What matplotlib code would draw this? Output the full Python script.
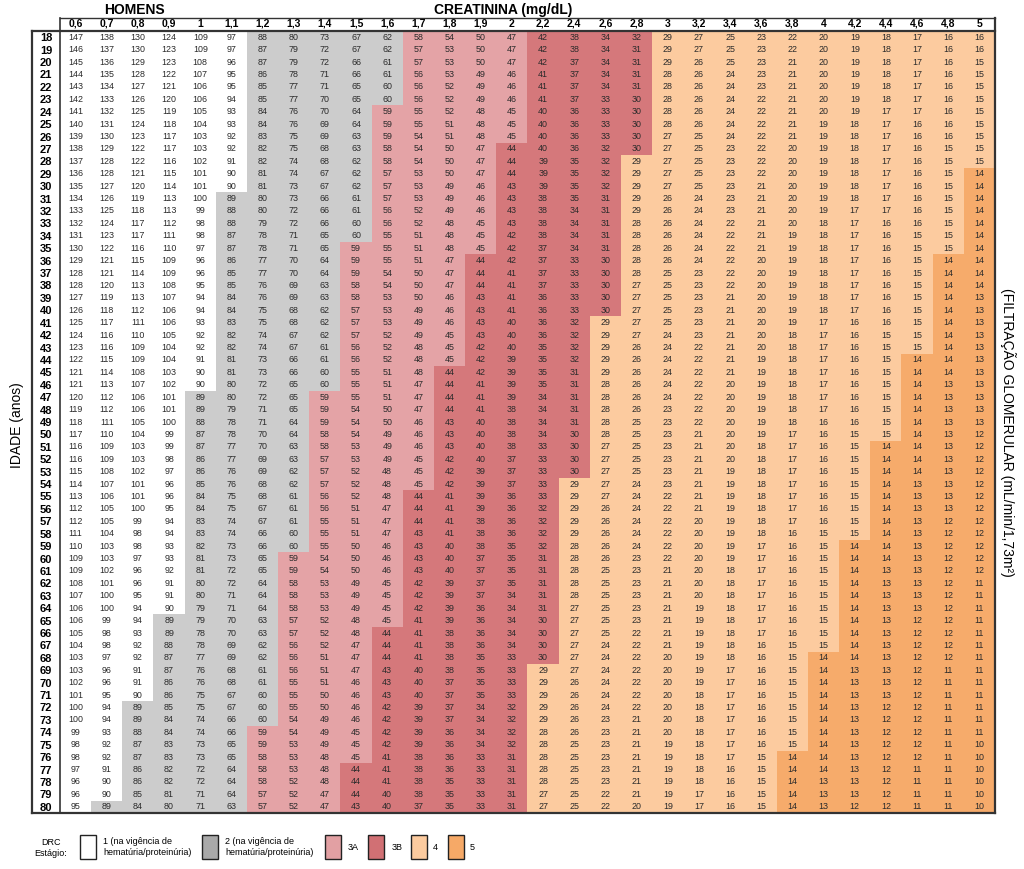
import numpy as np
import matplotlib
matplotlib.use('Agg')
from matplotlib import pyplot as plt
from matplotlib.colors import ListedColormap, BoundaryNorm
from matplotlib.patches import Rectangle
from matplotlib.lines import Line2D

plt.rcParams['font.family'] = ['Liberation Sans', 'DejaVu Sans']

# creatinina (mg/dL) - cabecalho das colunas
creatinina = ['0,6', '0,7', '0,8', '0,9', '1', '1,1', '1,2', '1,3', '1,4', '1,5',
              '1,6', '1,7', '1,8', '1,9', '2', '2,2', '2,4', '2,6', '2,8', '3',
              '3,2', '3,4', '3,6', '3,8', '4', '4,2', '4,4', '4,6', '4,8', '5']

idades = list(range(18, 81))

# filtracao glomerular por idade (linhas) e creatinina (colunas)
tfg = [
    [147, 138, 130, 124, 109, 97, 88, 80, 73, 67, 62, 58, 54, 50, 47, 42, 38, 34, 32, 29, 27, 25, 23, 22, 20, 19, 18, 17, 16, 16],
    [146, 137, 130, 123, 109, 97, 87, 79, 72, 67, 62, 57, 53, 50, 47, 42, 38, 34, 31, 29, 27, 25, 23, 22, 20, 19, 18, 17, 16, 16],
    [145, 136, 129, 123, 108, 96, 87, 79, 72, 66, 61, 57, 53, 50, 47, 42, 37, 34, 31, 29, 26, 25, 23, 21, 20, 19, 18, 17, 16, 15],
    [144, 135, 128, 122, 107, 95, 86, 78, 71, 66, 61, 56, 53, 49, 46, 41, 37, 34, 31, 28, 26, 24, 23, 21, 20, 19, 18, 17, 16, 15],
    [143, 134, 127, 121, 106, 95, 85, 77, 71, 65, 60, 56, 52, 49, 46, 41, 37, 34, 31, 28, 26, 24, 23, 21, 20, 19, 18, 17, 16, 15],
    [142, 133, 126, 120, 106, 94, 85, 77, 70, 65, 60, 56, 52, 49, 46, 41, 37, 33, 30, 28, 26, 24, 22, 21, 20, 19, 18, 17, 16, 15],
    [141, 132, 125, 119, 105, 93, 84, 76, 70, 64, 59, 55, 52, 48, 45, 40, 36, 33, 30, 28, 26, 24, 22, 21, 20, 19, 17, 17, 16, 15],
    [140, 131, 124, 118, 104, 93, 84, 76, 69, 64, 59, 55, 51, 48, 45, 40, 36, 33, 30, 28, 26, 24, 22, 21, 19, 18, 17, 16, 16, 15],
    [139, 130, 123, 117, 103, 92, 83, 75, 69, 63, 59, 54, 51, 48, 45, 40, 36, 33, 30, 27, 25, 24, 22, 21, 19, 18, 17, 16, 16, 15],
    [138, 129, 122, 117, 103, 92, 82, 75, 68, 63, 58, 54, 50, 47, 44, 40, 36, 32, 30, 27, 25, 23, 22, 20, 19, 18, 17, 16, 15, 15],
    [137, 128, 122, 116, 102, 91, 82, 74, 68, 62, 58, 54, 50, 47, 44, 39, 35, 32, 29, 27, 25, 23, 22, 20, 19, 18, 17, 16, 15, 15],
    [136, 128, 121, 115, 101, 90, 81, 74, 67, 62, 57, 53, 50, 47, 44, 39, 35, 32, 29, 27, 25, 23, 22, 20, 19, 18, 17, 16, 15, 14],
    [135, 127, 120, 114, 101, 90, 81, 73, 67, 62, 57, 53, 49, 46, 43, 39, 35, 32, 29, 27, 25, 23, 21, 20, 19, 18, 17, 16, 15, 14],
    [134, 126, 119, 113, 100, 89, 80, 73, 66, 61, 57, 53, 49, 46, 43, 38, 35, 31, 29, 26, 24, 23, 21, 20, 19, 18, 17, 16, 15, 14],
    [133, 125, 118, 113, 99, 88, 80, 72, 66, 61, 56, 52, 49, 46, 43, 38, 34, 31, 29, 26, 24, 23, 21, 20, 19, 17, 17, 16, 15, 14],
    [132, 124, 117, 112, 98, 88, 79, 72, 66, 60, 56, 52, 48, 45, 43, 38, 34, 31, 28, 26, 24, 22, 21, 20, 18, 17, 16, 16, 15, 14],
    [131, 123, 117, 111, 98, 87, 78, 71, 65, 60, 55, 51, 48, 45, 42, 38, 34, 31, 28, 26, 24, 22, 21, 19, 18, 17, 16, 15, 15, 14],
    [130, 122, 116, 110, 97, 87, 78, 71, 65, 59, 55, 51, 48, 45, 42, 37, 34, 31, 28, 26, 24, 22, 21, 19, 18, 17, 16, 15, 15, 14],
    [129, 121, 115, 109, 96, 86, 77, 70, 64, 59, 55, 51, 47, 44, 42, 37, 33, 30, 28, 26, 24, 22, 20, 19, 18, 17, 16, 15, 14, 14],
    [128, 121, 114, 109, 96, 85, 77, 70, 64, 59, 54, 50, 47, 44, 41, 37, 33, 30, 28, 25, 23, 22, 20, 19, 18, 17, 16, 15, 14, 14],
    [128, 120, 113, 108, 95, 85, 76, 69, 63, 58, 54, 50, 47, 44, 41, 37, 33, 30, 27, 25, 23, 22, 20, 19, 18, 17, 16, 15, 14, 14],
    [127, 119, 113, 107, 94, 84, 76, 69, 63, 58, 53, 50, 46, 43, 41, 36, 33, 30, 27, 25, 23, 21, 20, 19, 18, 17, 16, 15, 14, 13],
    [126, 118, 112, 106, 94, 84, 75, 68, 62, 57, 53, 49, 46, 43, 41, 36, 33, 30, 27, 25, 23, 21, 20, 19, 18, 17, 16, 15, 14, 13],
    [125, 117, 111, 106, 93, 83, 75, 68, 62, 57, 53, 49, 46, 43, 40, 36, 32, 29, 27, 25, 23, 21, 20, 19, 17, 16, 16, 15, 14, 13],
    [124, 116, 110, 105, 92, 82, 74, 67, 62, 57, 52, 49, 45, 43, 40, 36, 32, 29, 27, 24, 23, 21, 20, 18, 17, 16, 15, 15, 14, 13],
    [123, 116, 109, 104, 92, 82, 74, 67, 61, 56, 52, 48, 45, 42, 40, 35, 32, 29, 26, 24, 22, 21, 20, 18, 17, 16, 15, 15, 14, 13],
    [122, 115, 109, 104, 91, 81, 73, 66, 61, 56, 52, 48, 45, 42, 39, 35, 32, 29, 26, 24, 22, 21, 19, 18, 17, 16, 15, 14, 14, 13],
    [121, 114, 108, 103, 90, 81, 73, 66, 60, 55, 51, 48, 44, 42, 39, 35, 31, 29, 26, 24, 22, 21, 19, 18, 17, 16, 15, 14, 14, 13],
    [121, 113, 107, 102, 90, 80, 72, 65, 60, 55, 51, 47, 44, 41, 39, 35, 31, 28, 26, 24, 22, 20, 19, 18, 17, 16, 15, 14, 13, 13],
    [120, 112, 106, 101, 89, 80, 72, 65, 59, 55, 51, 47, 44, 41, 39, 34, 31, 28, 26, 24, 22, 20, 19, 18, 17, 16, 15, 14, 13, 13],
    [119, 112, 106, 101, 89, 79, 71, 65, 59, 54, 50, 47, 44, 41, 38, 34, 31, 28, 26, 23, 22, 20, 19, 18, 17, 16, 15, 14, 13, 13],
    [118, 111, 105, 100, 88, 78, 71, 64, 59, 54, 50, 46, 43, 40, 38, 34, 31, 28, 25, 23, 22, 20, 19, 18, 16, 16, 15, 14, 13, 13],
    [117, 110, 104, 99, 87, 78, 70, 64, 58, 54, 49, 46, 43, 40, 38, 34, 30, 28, 25, 23, 21, 20, 19, 17, 16, 15, 15, 14, 13, 12],
    [116, 109, 103, 99, 87, 77, 70, 63, 58, 53, 49, 46, 43, 40, 38, 33, 30, 27, 25, 23, 21, 20, 18, 17, 16, 15, 14, 14, 13, 12],
    [116, 109, 103, 98, 86, 77, 69, 63, 57, 53, 49, 45, 42, 40, 37, 33, 30, 27, 25, 23, 21, 20, 18, 17, 16, 15, 14, 14, 13, 12],
    [115, 108, 102, 97, 86, 76, 69, 62, 57, 52, 48, 45, 42, 39, 37, 33, 30, 27, 25, 23, 21, 19, 18, 17, 16, 15, 14, 14, 13, 12],
    [114, 107, 101, 96, 85, 76, 68, 62, 57, 52, 48, 45, 42, 39, 37, 33, 29, 27, 24, 23, 21, 19, 18, 17, 16, 15, 14, 13, 13, 12],
    [113, 106, 101, 96, 84, 75, 68, 61, 56, 52, 48, 44, 41, 39, 36, 33, 29, 27, 24, 22, 21, 19, 18, 17, 16, 15, 14, 13, 13, 12],
    [112, 105, 100, 95, 84, 75, 67, 61, 56, 51, 47, 44, 41, 39, 36, 32, 29, 26, 24, 22, 21, 19, 18, 17, 16, 15, 14, 13, 13, 12],
    [112, 105, 99, 94, 83, 74, 67, 61, 55, 51, 47, 44, 41, 38, 36, 32, 29, 26, 24, 22, 20, 19, 18, 17, 16, 15, 14, 13, 12, 12],
    [111, 104, 98, 94, 83, 74, 66, 60, 55, 51, 47, 43, 41, 38, 36, 32, 29, 26, 24, 22, 20, 19, 18, 16, 15, 15, 14, 13, 12, 12],
    [110, 103, 98, 93, 82, 73, 66, 60, 55, 50, 46, 43, 40, 38, 35, 32, 28, 26, 24, 22, 20, 19, 17, 16, 15, 14, 14, 13, 12, 12],
    [109, 103, 97, 93, 81, 73, 65, 59, 54, 50, 46, 43, 40, 37, 35, 31, 28, 26, 23, 22, 20, 19, 17, 16, 15, 14, 14, 13, 12, 12],
    [109, 102, 96, 92, 81, 72, 65, 59, 54, 50, 46, 43, 40, 37, 35, 31, 28, 25, 23, 21, 20, 18, 17, 16, 15, 14, 13, 13, 12, 12],
    [108, 101, 96, 91, 80, 72, 64, 58, 53, 49, 45, 42, 39, 37, 35, 31, 28, 25, 23, 21, 20, 18, 17, 16, 15, 14, 13, 13, 12, 11],
    [107, 100, 95, 91, 80, 71, 64, 58, 53, 49, 45, 42, 39, 37, 34, 31, 28, 25, 23, 21, 20, 18, 17, 16, 15, 14, 13, 13, 12, 11],
    [106, 100, 94, 90, 79, 71, 64, 58, 53, 49, 45, 42, 39, 36, 34, 31, 27, 25, 23, 21, 19, 18, 17, 16, 15, 14, 13, 13, 12, 11],
    [106, 99, 94, 89, 79, 70, 63, 57, 52, 48, 45, 41, 39, 36, 34, 30, 27, 25, 23, 21, 19, 18, 17, 16, 15, 14, 13, 12, 12, 11],
    [105, 98, 93, 89, 78, 70, 63, 57, 52, 48, 44, 41, 38, 36, 34, 30, 27, 25, 22, 21, 19, 18, 17, 16, 15, 14, 13, 12, 12, 11],
    [104, 98, 92, 88, 78, 69, 62, 56, 52, 47, 44, 41, 38, 36, 34, 30, 27, 24, 22, 21, 19, 18, 16, 15, 15, 14, 13, 12, 12, 11],
    [103, 97, 92, 87, 77, 69, 62, 56, 51, 47, 44, 41, 38, 35, 33, 30, 27, 24, 22, 20, 19, 18, 16, 15, 14, 14, 13, 12, 12, 11],
    [103, 96, 91, 87, 76, 68, 61, 56, 51, 47, 43, 40, 38, 35, 33, 29, 27, 24, 22, 20, 19, 17, 16, 15, 14, 13, 13, 12, 11, 11],
    [102, 96, 91, 86, 76, 68, 61, 55, 51, 46, 43, 40, 37, 35, 33, 29, 26, 24, 22, 20, 19, 17, 16, 15, 14, 13, 13, 12, 11, 11],
    [101, 95, 90, 86, 75, 67, 60, 55, 50, 46, 43, 40, 37, 35, 33, 29, 26, 24, 22, 20, 18, 17, 16, 15, 14, 13, 13, 12, 11, 11],
    [100, 94, 89, 85, 75, 67, 60, 55, 50, 46, 42, 39, 37, 34, 32, 29, 26, 24, 22, 20, 18, 17, 16, 15, 14, 13, 12, 12, 11, 11],
    [100, 94, 89, 84, 74, 66, 60, 54, 49, 46, 42, 39, 37, 34, 32, 29, 26, 23, 21, 20, 18, 17, 16, 15, 14, 13, 12, 12, 11, 11],
    [99, 93, 88, 84, 74, 66, 59, 54, 49, 45, 42, 39, 36, 34, 32, 28, 26, 23, 21, 20, 18, 17, 16, 15, 14, 13, 12, 12, 11, 11],
    [98, 92, 87, 83, 73, 65, 59, 53, 49, 45, 42, 39, 36, 34, 32, 28, 25, 23, 21, 19, 18, 17, 16, 15, 14, 13, 12, 12, 11, 10],
    [98, 92, 87, 83, 73, 65, 58, 53, 48, 45, 41, 38, 36, 33, 31, 28, 25, 23, 21, 19, 18, 17, 15, 14, 14, 13, 12, 12, 11, 10],
    [97, 91, 86, 82, 72, 64, 58, 53, 48, 44, 41, 38, 36, 33, 31, 28, 25, 23, 21, 19, 18, 16, 15, 14, 14, 13, 12, 11, 11, 10],
    [96, 90, 86, 82, 72, 64, 58, 52, 48, 44, 41, 38, 35, 33, 31, 28, 25, 23, 21, 19, 18, 16, 15, 14, 13, 13, 12, 11, 11, 10],
    [96, 90, 85, 81, 71, 64, 57, 52, 47, 44, 40, 38, 35, 33, 31, 27, 25, 22, 21, 19, 17, 16, 15, 14, 13, 13, 12, 11, 11, 10],
    [95, 89, 84, 80, 71, 63, 57, 52, 47, 43, 40, 37, 35, 33, 31, 27, 25, 22, 20, 19, 17, 16, 15, 14, 13, 12, 12, 11, 11, 10],
]

# estagios DRC: limites e cores (do 5 ao 1)
limites = [0, 15, 30, 45, 60, 90, 1000]
cores = ['#f6ab6b', '#fccb9f', '#d5787b', '#e4a3a6', '#cccccc', '#ffffff']

dados = np.array(tfg)

fig = plt.figure(figsize=(10.24, 8.69), dpi=100)
ax = fig.add_axes([60 / 1024, 1 - 813 / 869, 935 / 1024, 782 / 869])

cmap = ListedColormap(cores)
norm = BoundaryNorm(limites, cmap.N)
ax.imshow(dados, cmap=cmap, norm=norm, aspect='auto', interpolation='nearest')

for i in range(dados.shape[0]):
    for j in range(dados.shape[1]):
        ax.text(j, i, str(dados[i, j]), ha='center', va='center',
                fontsize=6.4, color='#2a2a2a')

ax.xaxis.tick_top()
ax.set_xticks(range(len(creatinina)))
ax.set_xticklabels(creatinina, fontsize=7.5, fontweight='bold')
ax.set_yticks(range(len(idades)))
ax.set_yticklabels(idades, fontsize=8, fontweight='bold', ha='center')
ax.tick_params(axis='x', length=0, pad=1.5)
ax.tick_params(axis='y', length=0, pad=10)
for s in ax.spines.values():
    s.set_visible(False)

# bordas da tabela
esq = -28 / 935
topo = 1 + 13 / 782
linhas = [
    ([esq, 1], [1, 1], 1.6),
    ([esq, 1], [0, 0], 1.6),
    ([esq, esq], [0, 1], 1.6),
    ([1, 1], [0, topo], 1.6),
    ([0, 0], [0, topo], 1.2),
    ([0, 1], [topo, topo], 1.0),
]
for xs, ys, lw in linhas:
    ax.add_line(Line2D(xs, ys, transform=ax.transAxes, color='#333333',
                       lw=lw, clip_on=False))

fig.text(134 / 1024, 1 - 10 / 869, 'HOMENS', fontsize=10, fontweight='bold',
         ha='center', va='center')
fig.text(503 / 1024, 1 - 10 / 869, 'CREATININA (mg/dL)', fontsize=10,
         fontweight='bold', ha='center', va='center')
fig.text(17 / 1024, 1 - 425 / 869, 'IDADE (anos)', fontsize=10,
         rotation=90, ha='center', va='center')
fig.text(1008 / 1024, 1 - 432 / 869, '(FILTRAÇÃO GLOMERULAR (mL/min/1,73m²)',
         fontsize=10, rotation=270, ha='center', va='center')

# legenda
lax = fig.add_axes([0, 0, 1, 50 / 869])
lax.set_xlim(0, 1024)
lax.set_ylim(869, 819)
lax.axis('off')

legenda_cores = ['#ffffff', '#a9a9a9', '#e2a0a3', '#d17074', '#fccb9f', '#f6a967']
legenda_textos = ['1 (na vigência de\nhematúria/proteinúria)',
                  '2 (na vigência de\nhematúria/proteinúria)',
                  '3A', '3B', '4', '5']
legenda_x = [80, 202, 325, 368, 411, 448]
legenda_tx = [103, 225, 348, 392, 433, 470]

lax.text(51, 848, 'DRC\nEstágio:', fontsize=6.5, ha='center', va='center',
         linespacing=1.3)
for x, c, t, tx in zip(legenda_x, legenda_cores, legenda_textos, legenda_tx):
    lax.add_patch(Rectangle((x, 835), 16, 24, facecolor=c, edgecolor='#222222',
                            lw=1.0))
    lax.text(tx, 847, t, fontsize=6.5, ha='left', va='center', linespacing=1.3)

fig.savefig('out.png', dpi=100)
